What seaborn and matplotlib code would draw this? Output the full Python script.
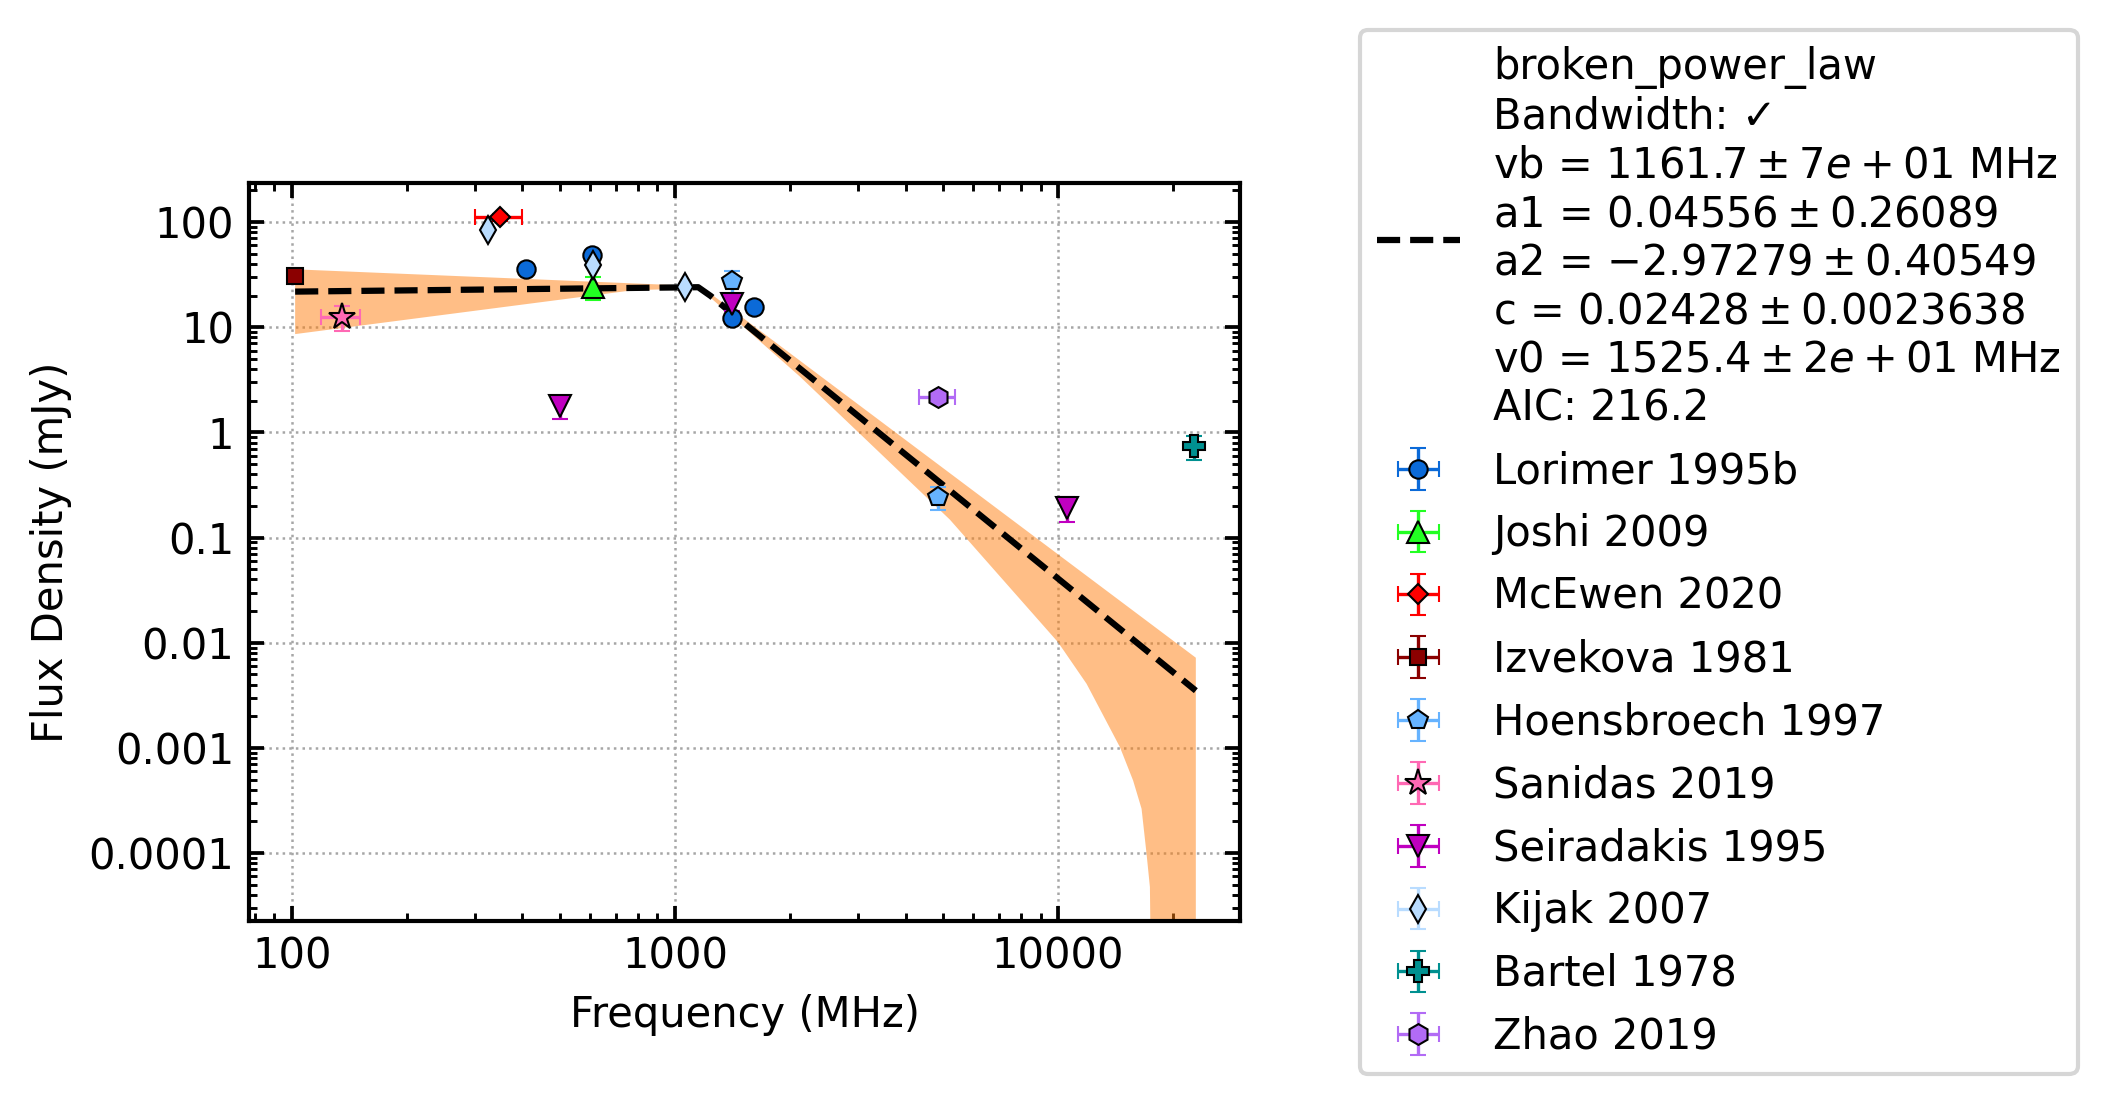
import numpy as np
import matplotlib
matplotlib.use("Agg")
import matplotlib.pyplot as plt
import seaborn as sns
from matplotlib.ticker import LogLocator, FuncFormatter, NullFormatter

# ---------------- data ----------------
lorimer_freq = [408, 606, 1410, 1606]
lorimer_flux = [35.9, 49.1, 12.2, 15.7]
lorimer_xerr = [0, 0, 0, 0]
lorimer_yerr = [3.0, 4.0, 1.0, 1.3]

joshi_freq = [610]
joshi_flux = [24.2]
joshi_xerr = [0]
joshi_yerr = [6.0]

mcewen_freq = [350]
mcewen_flux = [111]
mcewen_xerr = [50]
mcewen_yerr = [9]

izvekova_freq = [102]
izvekova_flux = [31.0]
izvekova_xerr = [0]
izvekova_yerr = [2.5]

hoens_freq = [1410, 4850]
hoens_flux = [27.4, 0.243]
hoens_xerr = [0, 0]
hoens_yerr = [6.5, 0.06]

sanidas_freq = [135]
sanidas_flux = [12.6]
sanidas_xerr = [16]
sanidas_yerr = [3.3]

seira_freq = [500, 1410, 10550]
seira_flux = [1.78, 16.7, 0.193]
seira_xerr = [0, 0, 0]
seira_yerr = [0.43, 2.5, 0.051]

kijak_freq = [325, 610, 1060]
kijak_flux = [84.3, 39.2, 24.1]
kijak_xerr = [0, 0, 0]
kijak_yerr = [4, 2, 1.2]

bartel_freq = [22700]
bartel_flux = [0.74]
bartel_xerr = [0]
bartel_yerr = [0.19]

zhao_freq = [4850]
zhao_flux = [2.16]
zhao_xerr = [520]
zhao_yerr = [0.2]

# fitted broken power law (vertices of the dashed line)
fit_freq = [102, 1150, 1240, 22890]
fit_flux = [21.8, 24.0, 19.8, 0.0035]

# uncertainty band edges
band_up_freq = [102, 1150, 1240, 22890]
band_up_flux = [35.5, 24.6, 20.8, 0.0072]
band_lo_freq = [102, 780, 1150, 1240, 2118, 5220, 10000, 11870, 14500,
                15700, 16520, 17020, 17370, 17410, 17450, 22890]
band_lo_flux = [8.6, 22.5, 23.4, 19.0, 3.4, 0.148, 0.0101, 0.00407, 0.00102,
                0.00049, 0.000264, 9.9e-5, 4.75e-5, 2.3e-5, 1e-6, 1e-6]

fit_label = ("broken_power_law\n"
             "Bandwidth: \u2713\n"
             "vb = $1161.7 \\pm 7e+01$ MHz\n"
             "a1 = $0.04556 \\pm 0.26089$\n"
             "a2 = $-2.97279 \\pm 0.40549$\n"
             "c = $0.02428 \\pm 0.0023638$\n"
             "v0 = $1525.4 \\pm 2e+01$ MHz\n"
             "AIC: 216.2")

# ---------------- style ----------------
sns.set_theme(style="ticks")
plt.rcParams.update({
    "font.family": ["DejaVu Sans"],
    "mathtext.fontset": "dejavusans",
    "font.size": 10,
    "axes.labelsize": 10,
    "xtick.labelsize": 10,
    "ytick.labelsize": 10,
    "legend.fontsize": 10,
    "axes.edgecolor": "black",
    "axes.linewidth": 1.0,
    "axes.labelcolor": "black",
    "text.color": "black",
    "xtick.color": "black",
    "ytick.color": "black",
    "xtick.direction": "in",
    "ytick.direction": "in",
    "xtick.top": True,
    "ytick.right": True,
    "xtick.major.size": 3.5,
    "ytick.major.size": 3.5,
    "xtick.minor.size": 2.0,
    "ytick.minor.size": 2.0,
    "xtick.major.width": 0.9,
    "ytick.major.width": 0.9,
    "xtick.minor.width": 0.7,
    "ytick.minor.width": 0.7,
    "legend.edgecolor": "0.8",
    "legend.framealpha": 0.8,
    "legend.fancybox": True,
})

W, H, DPI = 2108, 1104, 300
fig = plt.figure(figsize=(W / DPI, H / DPI), dpi=DPI)
ax = fig.add_axes([249 / W, 1 - 921 / H, (1240 - 249) / W, (921 - 183) / H])
ax.set_xscale("log")
ax.set_yscale("log")

# band
poly_x = band_up_freq + band_lo_freq[::-1]
poly_y = band_up_flux + band_lo_flux[::-1]
ax.fill(poly_x, poly_y, color="#ff7f0e", alpha=0.5, lw=0, zorder=1)

# fit line
sns.lineplot(x=fit_freq, y=fit_flux, ax=ax, sort=False, color="black",
             linestyle="--", linewidth=1.5, legend=False, zorder=2)
fit_handle = ax.lines[-1]

datasets = [
    ("Lorimer 1995b", lorimer_freq, lorimer_flux, lorimer_xerr, lorimer_yerr, "o", "#0b6ad8", 4.4),
    ("Joshi 2009", joshi_freq, joshi_flux, joshi_xerr, joshi_yerr, "^", "#22ff22", 5.2),
    ("McEwen 2020", mcewen_freq, mcewen_flux, mcewen_xerr, mcewen_yerr, "D", "#ff0000", 3.4),
    ("Izvekova 1981", izvekova_freq, izvekova_flux, izvekova_xerr, izvekova_yerr, "s", "#8b0000", 4.0),
    ("Hoensbroech 1997", hoens_freq, hoens_flux, hoens_xerr, hoens_yerr, "p", "#66b3ff", 4.8),
    ("Sanidas 2019", sanidas_freq, sanidas_flux, sanidas_xerr, sanidas_yerr, "*", "#ff69b4", 6.5),
    ("Seiradakis 1995", seira_freq, seira_flux, seira_xerr, seira_yerr, "v", "#c000c0", 5.3),
    ("Kijak 2007", kijak_freq, kijak_flux, kijak_xerr, kijak_yerr, "d", "#b9dcff", 4.8),
    ("Bartel 1978", bartel_freq, bartel_flux, bartel_xerr, bartel_yerr, "P", "#009090", 5.2),
    ("Zhao 2019", zhao_freq, zhao_flux, zhao_xerr, zhao_yerr, "h", "#b26bf5", 5.0),
]

handles = [fit_handle]
labels = [fit_label]
for name, fx, fy, xe, ye, mk, col, ms in datasets:
    eb = ax.errorbar(fx, fy, xerr=xe, yerr=ye, fmt=mk, color=col, ecolor=col,
                     markeredgecolor="black", markeredgewidth=0.5, ms=ms,
                     elinewidth=0.8, capsize=2, capthick=0.8, zorder=3)
    handles.append(eb)
    labels.append(name)

ax.set_xlim(77.3, 29850)
ax.set_ylim(2.26e-5, 235)

fmt = FuncFormatter(lambda v, p: f"{v:g}")
for axis in (ax.xaxis, ax.yaxis):
    axis.set_major_locator(LogLocator(base=10, numticks=100))
    axis.set_minor_locator(LogLocator(base=10, subs=np.arange(2, 10), numticks=100))
    axis.set_major_formatter(fmt)
    axis.set_minor_formatter(NullFormatter())

ax.grid(True, which="major", linestyle=":", color="0.65", linewidth=0.6)
ax.set_xlabel("Frequency (MHz)")
ax.set_ylabel("Flux Density (mJy)")

fig.legend(handles, labels, loc="center left",
           bbox_to_anchor=(1360 / W, 0.5), bbox_transform=fig.transFigure,
           borderaxespad=0)

fig.savefig("out.png", dpi=DPI)
